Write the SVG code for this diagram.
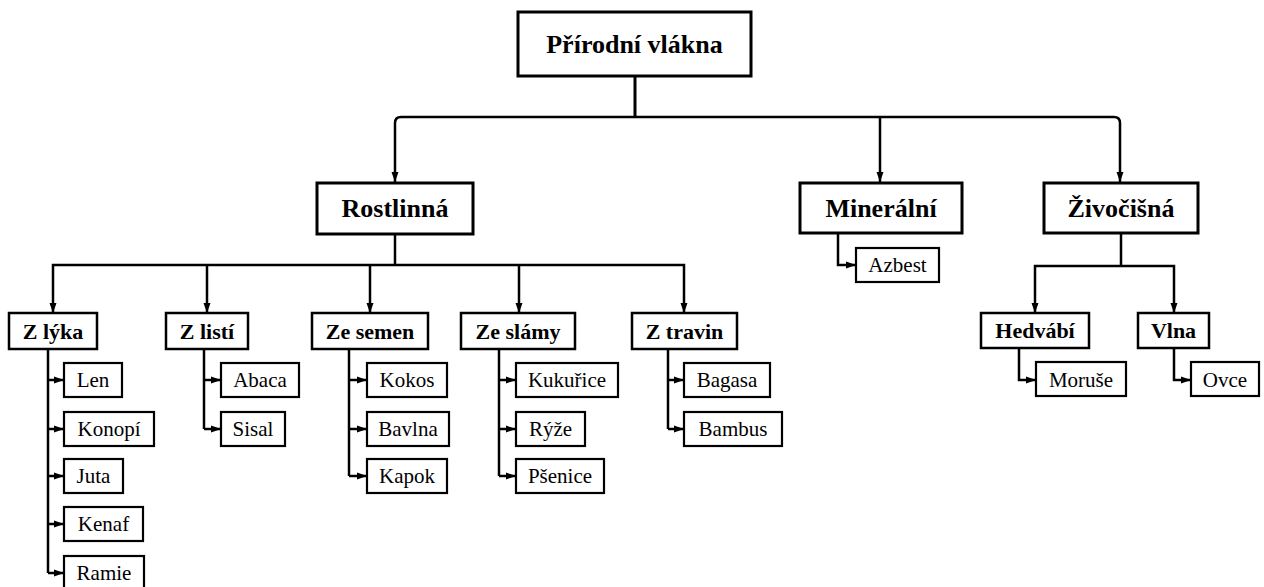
<svg xmlns="http://www.w3.org/2000/svg" width="1264" height="587" viewBox="0 0 1264 587">
<defs>
<marker id="ah" markerUnits="userSpaceOnUse" markerWidth="10" markerHeight="10" viewBox="0 0 10 10" refX="10" refY="5" orient="auto">
<path d="M0,1.5 L10,5 L0,8.5 Z" fill="#000"/>
</marker>
<style>
rect{fill:#fff;stroke:#000}
.b0{stroke-width:3}
.b1{stroke-width:3}
.b2{stroke-width:2.5}
.lf{stroke-width:2.2}
text{font-family:"Liberation Serif","Times New Roman",serif;text-anchor:middle;fill:#000}
.t0{font-size:26px;font-weight:bold}
.t1{font-size:26px;font-weight:bold}
.t2{font-size:22px;font-weight:bold}
.t3{font-size:21px}
.c{fill:none;stroke:#000;stroke-width:2.5;marker-end:url(#ah)}
.c0{fill:none;stroke:#000;stroke-width:3}
.cn{fill:none;stroke:#000;stroke-width:2.5}
</style>
</defs>
<rect width="1264" height="587" fill="#fff" style="stroke:none"/>
<g id="connectors">
<path class="c0" d="M635,77 V117"/>
<path class="c" d="M635,117 H401 Q395,117 395,123 V182"/>
<path class="c" d="M635,117 H1114 Q1120,117 1120,123 V182"/>
<path class="c" d="M880,117 V182"/>
<path class="cn" d="M395,235 V265"/>
<path class="c" d="M395,265 H53 V313"/>
<path class="c" d="M207,265 V313"/>
<path class="c" d="M370,265 V313"/>
<path class="c" d="M519,265 V313"/>
<path class="c" d="M395,265 H684 V313"/>
<path class="c" d="M838,234 V265 H856"/>
<path class="cn" d="M1121,234 V266"/>
<path class="c" d="M1121,266 H1035 V313"/>
<path class="c" d="M1121,266 H1174 V313"/>
<path class="c" d="M1019,349 V380 H1036"/>
<path class="c" d="M1174,349 V380 H1191"/>
<path class="cn" d="M48,349 V573"/>
<path class="c" d="M48,380 H64"/>
<path class="c" d="M48,429 H64"/>
<path class="c" d="M48,476 H64"/>
<path class="c" d="M48,524 H64"/>
<path class="c" d="M48,573 H64"/>
<path class="cn" d="M204,349 V429"/>
<path class="c" d="M204,380 H221"/>
<path class="c" d="M204,429 H221"/>
<path class="cn" d="M349,349 V476"/>
<path class="c" d="M349,380 H367"/>
<path class="c" d="M349,429 H367"/>
<path class="c" d="M349,476 H367"/>
<path class="cn" d="M499,349 V476"/>
<path class="c" d="M499,380 H516"/>
<path class="c" d="M499,429 H516"/>
<path class="c" d="M499,476 H516"/>
<path class="cn" d="M668,349 V429"/>
<path class="c" d="M668,380 H684"/>
<path class="c" d="M668,429 H684"/>
</g>
<g id="n-root"><rect class="b0" x="518" y="12" width="233" height="64"/><text class="t0" x="634.5" y="53">Přírodní vlákna</text></g>
<g id="n-rostlinna"><rect class="b1" x="317" y="183" width="156" height="51"/><text class="t1" x="395" y="217">Rostlinná</text></g>
<g id="n-mineralni"><rect class="b1" x="800" y="183" width="162" height="50"/><text class="t1" x="881" y="217">Minerální</text></g>
<g id="n-zivocisna"><rect class="b1" x="1044" y="183" width="154" height="50"/><text class="t1" x="1121" y="217">Živočišná</text></g>
<g id="n-azbest"><rect class="lf" x="856" y="248" width="83" height="34"/><text class="t3" x="897.5" y="272">Azbest</text></g>
<g id="n-hedvabi"><rect class="b2" x="981" y="313" width="108" height="35"/><text class="t2" x="1035" y="338">Hedvábí</text></g>
<g id="n-vlna"><rect class="b2" x="1138" y="313" width="71" height="35"/><text class="t2" x="1173.5" y="338">Vlna</text></g>
<g id="n-moruse"><rect class="lf" x="1036" y="362" width="90" height="34"/><text class="t3" x="1081" y="387">Moruše</text></g>
<g id="n-ovce"><rect class="lf" x="1191" y="362" width="68" height="34"/><text class="t3" x="1225" y="387">Ovce</text></g>
<g id="n-zlyka"><rect class="b2" x="9" y="313" width="88" height="36"/><text class="t2" x="53" y="339">Z lýka</text></g>
<g id="n-zlisti"><rect class="b2" x="166" y="313" width="82" height="36"/><text class="t2" x="207" y="339">Z listí</text></g>
<g id="n-zesemen"><rect class="b2" x="312" y="313" width="116" height="36"/><text class="t2" x="370" y="339">Ze semen</text></g>
<g id="n-zeslamy"><rect class="b2" x="461" y="313" width="114" height="36"/><text class="t2" x="518" y="339">Ze slámy</text></g>
<g id="n-ztravin"><rect class="b2" x="632" y="313" width="105" height="36"/><text class="t2" x="684.5" y="339">Z travin</text></g>
<g id="n-len"><rect class="lf" x="64" y="363" width="58" height="34"/><text class="t3" x="93" y="387">Len</text></g>
<g id="n-konopi"><rect class="lf" x="64" y="412" width="90" height="34"/><text class="t3" x="109" y="436">Konopí</text></g>
<g id="n-juta"><rect class="lf" x="64" y="459" width="59" height="34"/><text class="t3" x="93.5" y="483">Juta</text></g>
<g id="n-kenaf"><rect class="lf" x="64" y="507" width="79" height="34"/><text class="t3" x="103.5" y="531">Kenaf</text></g>
<g id="n-ramie"><rect class="lf" x="64" y="556" width="80" height="34"/><text class="t3" x="104" y="580">Ramie</text></g>
<g id="n-abaca"><rect class="lf" x="221" y="363" width="78" height="34"/><text class="t3" x="260" y="387">Abaca</text></g>
<g id="n-sisal"><rect class="lf" x="221" y="412" width="64" height="34"/><text class="t3" x="253" y="436">Sisal</text></g>
<g id="n-kokos"><rect class="lf" x="367" y="363" width="80" height="34"/><text class="t3" x="407" y="387">Kokos</text></g>
<g id="n-bavlna"><rect class="lf" x="367" y="412" width="82" height="34"/><text class="t3" x="408" y="436">Bavlna</text></g>
<g id="n-kapok"><rect class="lf" x="367" y="459" width="80" height="34"/><text class="t3" x="407" y="483">Kapok</text></g>
<g id="n-kukurice"><rect class="lf" x="516" y="363" width="102" height="34"/><text class="t3" x="567" y="387">Kukuřice</text></g>
<g id="n-ryze"><rect class="lf" x="516" y="412" width="69" height="34"/><text class="t3" x="550.5" y="436">Rýže</text></g>
<g id="n-psenice"><rect class="lf" x="516" y="459" width="88" height="34"/><text class="t3" x="560" y="483">Pšenice</text></g>
<g id="n-bagasa"><rect class="lf" x="684" y="363" width="86" height="34"/><text class="t3" x="727" y="387">Bagasa</text></g>
<g id="n-bambus"><rect class="lf" x="684" y="412" width="98" height="34"/><text class="t3" x="733" y="436">Bambus</text></g>
</svg>
